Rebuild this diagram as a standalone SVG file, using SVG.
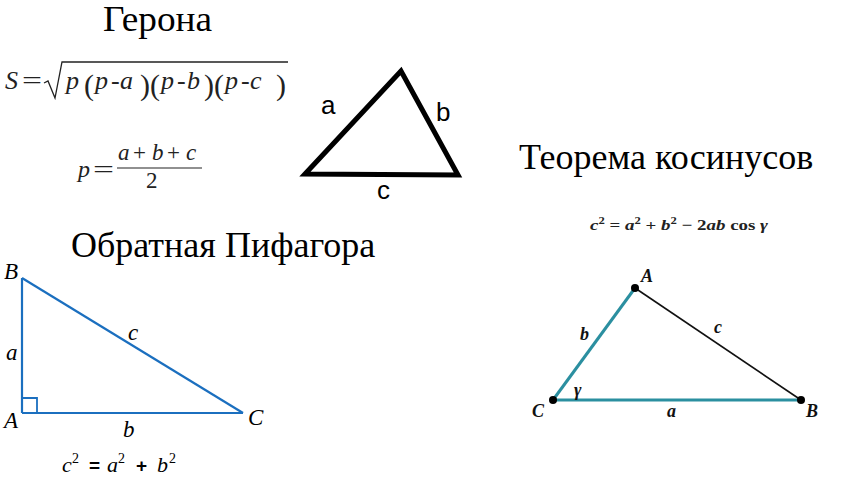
<svg xmlns="http://www.w3.org/2000/svg" width="844" height="481" viewBox="0 0 844 481">
<style>
.title{font-family:"Liberation Serif",serif;font-size:36px;fill:#000}
.m{font-family:"Liberation Serif",serif;font-style:italic;fill:#222}
.mr{font-family:"Liberation Serif",serif;fill:#222}
.lbl{font-family:"Liberation Sans",sans-serif;font-size:26px;fill:#000}
.it{font-family:"Liberation Serif",serif;font-style:italic;font-size:23px;fill:#000}
.ci{font-family:"Liberation Serif",serif;font-style:italic;font-weight:bold;font-size:18px;fill:#111}
</style>
<rect width="844" height="481" fill="#fff"/>
<g id="titles">
<text class="title" x="103" y="31" font-size="35" textLength="109" lengthAdjust="spacingAndGlyphs">Герона</text>
<text class="title" x="519" y="169">Теорема косинусов</text>
<text class="title" x="71" y="257">Обратная Пифагора</text>
</g>
<g id="heron-formula">
<text class="m" x="5" y="89" font-size="26">S</text>
<text class="mr" x="22" y="89" font-size="26" textLength="20" lengthAdjust="spacingAndGlyphs">=</text>
<path d="M44 83 L48 81 L55 98 L62 62 L288 62" fill="none" stroke="#222" stroke-width="1.3"/>
<text class="m" x="66" y="89" font-size="26">p</text>
<text class="mr" x="84" y="95" font-size="30">(</text>
<text class="m" x="95" y="89" font-size="26">p</text>
<text class="mr" x="111" y="89" font-size="26">-</text>
<text class="m" x="120" y="89" font-size="26">a</text>
<text class="mr" x="140" y="95" font-size="30">)(</text>
<text class="m" x="161" y="89" font-size="26">p</text>
<text class="mr" x="177" y="89" font-size="26">-</text>
<text class="m" x="187" y="89" font-size="26">b</text>
<text class="mr" x="204" y="95" font-size="30">)(</text>
<text class="m" x="225" y="89" font-size="26">p</text>
<text class="mr" x="241" y="89" font-size="26">-</text>
<text class="m" x="250" y="89" font-size="26">c</text>
<text class="mr" x="276" y="95" font-size="30">)</text>
</g>
<g id="p-formula">
<text class="m" x="78" y="177" font-size="24">p</text>
<text class="mr" x="93" y="177" font-size="24" textLength="21" lengthAdjust="spacingAndGlyphs">=</text>
<text class="m" x="118" y="160" font-size="23">a</text>
<text class="mr" x="133" y="160" font-size="23">+</text>
<text class="m" x="152" y="160" font-size="23">b</text>
<text class="mr" x="167" y="160" font-size="23">+</text>
<text class="m" x="186" y="160" font-size="23">c</text>
<line x1="117" y1="168" x2="202" y2="168" stroke="#222" stroke-width="1.2"/>
<text class="mr" x="146" y="188" font-size="23">2</text>
</g>
<g id="heron-triangle">
<polygon points="305,174 401,71 458,175" fill="none" stroke="#000" stroke-width="5" stroke-linejoin="miter"/>
<text class="lbl" x="321" y="114">a</text>
<text class="lbl" x="436" y="121">b</text>
<text class="lbl" x="377" y="199">c</text>
</g>
<g id="cosine-formula">
<text x="590" y="230" font-family="'Liberation Serif',serif" font-size="15" font-weight="bold" fill="#222" textLength="178" lengthAdjust="spacingAndGlyphs"><tspan font-style="italic">c</tspan><tspan dy="-6" font-size="10">2</tspan><tspan dy="6"> = </tspan><tspan font-style="italic">a</tspan><tspan dy="-6" font-size="10">2</tspan><tspan dy="6"> + </tspan><tspan font-style="italic">b</tspan><tspan dy="-6" font-size="10">2</tspan><tspan dy="6"> − 2</tspan><tspan font-style="italic">ab</tspan><tspan> cos </tspan><tspan font-style="italic">γ</tspan></text>
</g>
<g id="connectors">
<line x1="553" y1="400" x2="635" y2="288" stroke="#2b8fa0" stroke-width="3"/>
<line x1="553" y1="400" x2="801" y2="400" stroke="#2b8fa0" stroke-width="3"/>
<line x1="635" y1="288" x2="801" y2="400" stroke="#111" stroke-width="1.6"/>
<line x1="22" y1="278" x2="22" y2="413" stroke="#1b6fbf" stroke-width="2.2"/>
<line x1="22" y1="413" x2="243" y2="413" stroke="#1b6fbf" stroke-width="2.2"/>
<line x1="22" y1="278" x2="243" y2="413" stroke="#1b6fbf" stroke-width="2.2"/>
<polyline points="22,398 37,398 37,413" fill="none" stroke="#1b6fbf" stroke-width="1.8"/>
</g>
<g id="cosine-triangle">
<circle cx="635" cy="288" r="4" fill="#000"/>
<circle cx="801" cy="400" r="4" fill="#000"/>
<circle cx="553" cy="400" r="4" fill="#000"/>
<text class="ci" x="641" y="282">A</text>
<text class="ci" x="806" y="417">B</text>
<text class="ci" x="532" y="417">C</text>
<text class="ci" x="580" y="340">b</text>
<text class="ci" x="714" y="333">c</text>
<text class="ci" x="574" y="396">γ</text>
<text class="ci" x="667" y="417">a</text>
</g>
<g id="pythagoras-triangle">
<text class="it" x="4" y="279">B</text>
<text class="it" x="6" y="360">a</text>
<text class="it" x="4" y="428">A</text>
<text class="it" x="128" y="340">c</text>
<text class="it" x="123" y="437">b</text>
<text class="it" x="248" y="425">C</text>
</g>
<g id="pythagoras-formula">
<text x="62" y="472" font-family="'Liberation Serif',serif" font-size="22" font-style="italic" fill="#000">c</text>
<text x="72" y="463" font-family="'Liberation Serif',serif" font-size="14" fill="#000">2</text>
<text x="89" y="472" font-family="'Liberation Sans',sans-serif" font-size="19" font-weight="bold" fill="#000">=</text>
<text x="107" y="472" font-family="'Liberation Serif',serif" font-size="22" font-style="italic" fill="#000">a</text>
<text x="118" y="463" font-family="'Liberation Serif',serif" font-size="14" fill="#000">2</text>
<text x="136" y="472" font-family="'Liberation Sans',sans-serif" font-size="19" font-weight="bold" fill="#000">+</text>
<text x="157" y="472" font-family="'Liberation Serif',serif" font-size="22" font-style="italic" fill="#000">b</text>
<text x="169" y="463" font-family="'Liberation Serif',serif" font-size="14" fill="#000">2</text>
</g>
</svg>
